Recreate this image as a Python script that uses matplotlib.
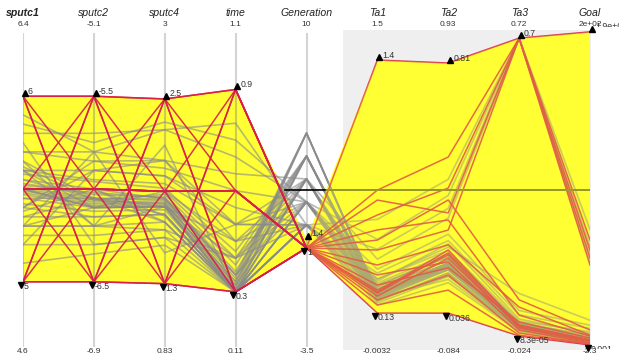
import numpy as np
import matplotlib
matplotlib.use('Agg')
import matplotlib.pyplot as plt
from matplotlib.patches import Polygon, Rectangle
from matplotlib.transforms import Bbox, offset_copy

# ---------------- data ----------------
names = ['sputc1', 'sputc2', 'sputc4', 'time', 'Generation', 'Ta1', 'Ta2', 'Ta3', 'Goal']
top_labels = ['6.4', '-5.1', '3', '1.1', '10', '1.5', '0.93', '0.72', '2e+02']
bottom_labels = ['4.6', '-6.9', '0.83', '0.11', '-3.5', '-0.0032', '-0.084', '-0.024', '-2.3']
axis_lo = [4.6, -6.9, 0.83, 0.11, -3.7, -0.086, -0.097, -0.047, -6.7]
axis_hi = [6.4, -5.1, 3.0, 1.1, 10.83, 1.591, 0.937, 0.738, 196.0]

sel_max = [6, -5.5, 2.5, 0.9, 1.4, 1.4, 0.81, 0.7, 190]
sel_min = [5, -6.5, 1.3, 0.3, 1, 0.13, 0.036, 8.3e-5, 0.001]
sel_max_labels = ['6', '-5.5', '2.5', '0.9', '1.4', '1.4', '0.81', '0.7', '1.9e+02']
sel_min_labels = ['5', '-6.5', '1.3', '0.3', '1', '0.13', '0.036', '8.3e-05', '0.001']

# design-of-experiment runs (generation 1)
doe_runs = [
    [5.0, -6.5, 1.3, 0.3, 1, 0.13, 0.036, 8.3e-5, 0.001],
    [6.0, -6.5, 1.3, 0.9, 1, 0.747, 0.519, 0.70, 57.6],
    [5.0, -5.5, 1.3, 0.9, 1, 0.697, 0.346, 0.70, 63.7],
    [6.0, -5.5, 1.3, 0.3, 1, 0.23, 0.222, 0.026, 3.0],
    [5.0, -6.5, 2.5, 0.9, 1, 0.622, 0.423, 0.70, 52.8],
    [6.0, -6.5, 2.5, 0.3, 1, 0.245, 0.216, 0.019, 1.8],
    [5.0, -5.5, 2.5, 0.3, 1, 0.371, 0.247, 0.068, 6.0],
    [6.0, -5.5, 2.5, 0.9, 1, 1.4, 0.81, 0.70, 190.0],
    [5.0, -6.0, 1.9, 0.6, 1, 0.321, 0.194, 0.014, 1.2],
    [6.0, -6.0, 1.9, 0.6, 1, 0.195, 0.154, 0.007, 0.6],
    [5.5, -6.5, 1.9, 0.6, 1, 0.446, 0.293, 0.70, 48.5],
    [5.5, -5.5, 1.9, 0.6, 1, 0.27, 0.176, 0.033, 4.2],
    [5.5, -6.0, 1.3, 0.6, 1, 0.17, 0.107, 0.002, 0.6],
    [5.5, -6.0, 2.5, 0.6, 1, 0.496, 0.386, 0.085, 9.1],
    [5.5, -6.0, 1.9, 0.3, 1, 0.215, 0.206, 0.021, 2.4],
    [5.5, -6.0, 1.9, 0.9, 1, 0.235, 0.231, 0.024, 3.0],
    [5.5, -6.0, 1.9, 0.6, 1, 0.547, 0.324, 0.049, 5.4],
]

# optimisation runs (generations 2..6)
opt_runs = [
    [5.5, -6.0, 1.9, 0.3, 2, 0.25, 0.20, 0.026, 4.0],
    [5.3, -6.2, 1.7, 0.3, 2, 0.22, 0.18, 0.020, 3.0],
    [5.7, -5.8, 2.1, 0.5, 2, 0.30, 0.23, 0.035, 8.0],
    [5.6, -6.1, 1.8, 0.45, 2, 0.45, 0.36, 0.70, 60.0],
    [5.2, -6.3, 1.6, 0.3, 2, 0.19, 0.16, 0.015, 2.0],
    [5.4, -5.9, 2.0, 0.55, 2, 0.27, 0.21, 0.030, 5.0],
    [5.9, -5.8, 2.3, 0.8, 2, 0.60, 0.45, 0.70, 70.0],
    [5.5, -6.0, 1.7, 0.3, 2, 0.21, 0.14, 0.012, 1.5],
    [5.3, -6.1, 1.9, 0.4, 2, 0.33, 0.26, 0.050, 10.0],
    [5.6, -6.2, 1.8, 0.3, 2, 0.24, 0.19, 0.022, 3.5],
    [5.1, -6.35, 1.55, 0.3, 2, 0.17, 0.13, 0.010, 1.0],
    [5.3, -5.8, 1.5, 0.5, 2, 0.29, 0.25, 0.040, 7.0],
    [5.45, -6.05, 1.85, 0.35, 3, 0.23, 0.19, 0.024, 3.2],
    [5.35, -6.15, 1.75, 0.3, 3, 0.21, 0.17, 0.018, 2.5],
    [5.6, -5.95, 1.95, 0.5, 3, 0.28, 0.22, 0.030, 6.0],
    [5.8, -5.7, 2.3, 0.7, 3, 0.50, 0.40, 0.70, 55.0],
    [5.5, -6.1, 1.8, 0.3, 3, 0.22, 0.18, 0.020, 2.8],
    [5.25, -6.25, 1.65, 0.4, 3, 0.18, 0.15, 0.016, 2.0],
    [5.55, -6.0, 1.9, 0.45, 3, 0.26, 0.20, 0.028, 4.5],
    [5.4, -5.85, 2.05, 0.6, 3, 0.30, 0.24, 0.100, 15.0],
    [5.65, -6.05, 1.75, 0.3, 3, 0.24, 0.19, 0.022, 3.0],
    [5.85, -5.75, 2.35, 0.75, 3, 0.35, 0.28, 0.060, 12.0],
    [5.65, -6.2, 2.2, 0.3, 3, 0.20, 0.15, 0.016, 1.9],
    [5.45, -6.1, 1.8, 0.32, 4, 0.22, 0.18, 0.021, 2.6],
    [5.5, -6.0, 1.85, 0.35, 4, 0.23, 0.185, 0.023, 3.0],
    [5.35, -6.05, 1.7, 0.3, 4, 0.20, 0.17, 0.019, 2.2],
    [5.6, -5.9, 2.0, 0.5, 4, 0.27, 0.21, 0.032, 5.5],
    [5.7, -5.85, 2.1, 0.65, 4, 0.40, 0.33, 0.70, 50.0],
    [5.4, -6.15, 1.75, 0.3, 4, 0.21, 0.175, 0.020, 2.4],
    [5.55, -6.05, 1.8, 0.4, 4, 0.24, 0.19, 0.025, 3.4],
    [5.3, -6.2, 1.65, 0.3, 4, 0.19, 0.16, 0.017, 1.8],
    [5.2, -5.9, 2.1, 0.45, 4, 0.26, 0.22, 0.030, 4.0],
    [5.48, -6.08, 1.82, 0.33, 5, 0.225, 0.182, 0.022, 2.7],
    [5.52, -6.02, 1.86, 0.36, 5, 0.23, 0.186, 0.023, 2.9],
    [5.42, -6.12, 1.78, 0.31, 5, 0.215, 0.178, 0.021, 2.5],
    [5.58, -5.96, 1.92, 0.42, 5, 0.25, 0.20, 0.027, 3.8],
    [5.38, -6.0, 1.74, 0.3, 5, 0.205, 0.172, 0.019, 2.2],
    [5.62, -6.06, 1.88, 0.38, 5, 0.24, 0.19, 0.024, 3.3],
    [5.5, -6.1, 1.8, 0.3, 5, 0.22, 0.18, 0.021, 2.6],
    [5.75, -6.3, 1.6, 0.4, 5, 0.23, 0.17, 0.020, 2.4],
    [5.49, -6.07, 1.83, 0.32, 6, 0.222, 0.181, 0.022, 2.6],
    [5.51, -6.05, 1.84, 0.34, 6, 0.226, 0.184, 0.022, 2.8],
    [5.47, -6.09, 1.81, 0.31, 6, 0.219, 0.179, 0.021, 2.5],
    [5.53, -6.03, 1.86, 0.35, 6, 0.23, 0.186, 0.023, 2.9],
    [5.5, -6.06, 1.82, 0.33, 6, 0.224, 0.182, 0.022, 2.7],
]

ref_level = 0.497   # horizontal reference line (normalised)

# ---------------- drawing ----------------
plt.rcParams['font.family'] = ['Liberation Sans', 'DejaVu Sans']
fig = plt.figure(figsize=(6.19, 3.64), dpi=100)
fig.patch.set_facecolor('white')
ax = fig.add_axes([23 / 619, 8 / 364, 567 / 619, 334 / 364])
ax.set_xlim(0, 8)
ax.set_ylim(0, 1)
ax.axis('off')

n = len(names)
xs = np.arange(n)
lo = np.array(axis_lo, float)
hi = np.array(axis_hi, float)


def nz(vals):
    return (np.asarray(vals, float) - lo) / (hi - lo)


# axis lines
for i in xs:
    ax.plot([i, i], [0.027, 0.967], color='#d4d4d4', lw=1.5, zorder=1,
            solid_capstyle='butt')

# shaded brush region
ax.add_patch(Rectangle((4.515, 0.018), 8.02 - 4.515, 0.958, facecolor='#efefef',
                       edgecolor='none', zorder=2, clip_on=False))

# selection envelope
up = nz(sel_max)
dn = nz(sel_min)
poly = Polygon(np.column_stack([np.r_[xs, xs[::-1]], np.r_[up, dn[::-1]]]),
               closed=True, facecolor='#ffff33', edgecolor='none', zorder=3)
ax.add_patch(poly)
for i in xs[:5]:
    ln, = ax.plot([i, i], [0.027, 0.967], color='#cccc55', lw=1.5, zorder=3.2,
                  solid_capstyle='butt')
    ln.set_clip_path(poly)

# optimisation lines
for row in opt_runs:
    ax.plot(xs, nz(row), color='#8a8a8a', alpha=0.6, lw=1.2, zorder=4)

# reference line (black outside the envelope, olive inside)
ax.plot([3.7, 8], [ref_level, ref_level], color='black', lw=1.2, zorder=4.5)
ln_in, = ax.plot([3.7, 8], [ref_level, ref_level], color='#a3a32a', lw=1.2,
                 zorder=5.6)
ln_in.set_clip_path(poly)

# doe lines
for row in doe_runs:
    ax.plot(xs, nz(row), color='#d81e4b', alpha=0.9, lw=1.1, zorder=5)

# yellow veil over right part of the envelope
veil = Rectangle((4.0, 0.0), 4.1, 1.0, facecolor='#ffff33', alpha=0.28,
                 edgecolor='none', zorder=5.5)
ax.add_patch(veil)
veil.set_clip_path(poly)

# markers
tr_up = offset_copy(ax.transData, fig=fig, x=1.2, y=2.3, units='points')
tr_dn = offset_copy(ax.transData, fig=fig, x=-1.6, y=-2.3, units='points')
ax.plot(xs, up, ls='none', marker='^', ms=5, color='black', transform=tr_up,
        zorder=7, clip_on=False)
ax.plot(xs, dn, ls='none', marker='v', ms=5, color='black', transform=tr_dn,
        zorder=7, clip_on=False)
for i in xs:
    t1 = ax.annotate(sel_max_labels[i], (i, up[i]), xytext=(3.6, 3.6),
                     textcoords='offset points', fontsize=6.3, color='#333333',
                     ha='left', va='center', zorder=8, annotation_clip=False)
    t2 = ax.annotate(sel_min_labels[i], (i, dn[i]), xytext=(0.3, -3.6),
                     textcoords='offset points', fontsize=6.3, color='#333333',
                     ha='left', va='center', zorder=8, annotation_clip=False)
    if i == n - 1:
        t1.set_clip_box(Bbox.from_extents(0, 337, 619, 364))
        t1.set_clip_on(True)
        t2.set_clip_box(Bbox.from_extents(0, 15, 619, 364))
        t2.set_clip_on(True)

# axis titles and range labels
for i in xs:
    ax.text(i, 1.027, names[i], ha='center', va='center', fontsize=7.6,
            style='italic', fontweight='bold' if i == 0 else 'normal',
            color='#222222', clip_on=False)
    ax.text(i, 0.992, top_labels[i], ha='center', va='center', fontsize=6,
            color='#333333', clip_on=False)
    ax.text(i, 0.012, bottom_labels[i], ha='center', va='center', fontsize=6,
            color='#333333', clip_on=False)

fig.savefig('out.png', dpi=100)
